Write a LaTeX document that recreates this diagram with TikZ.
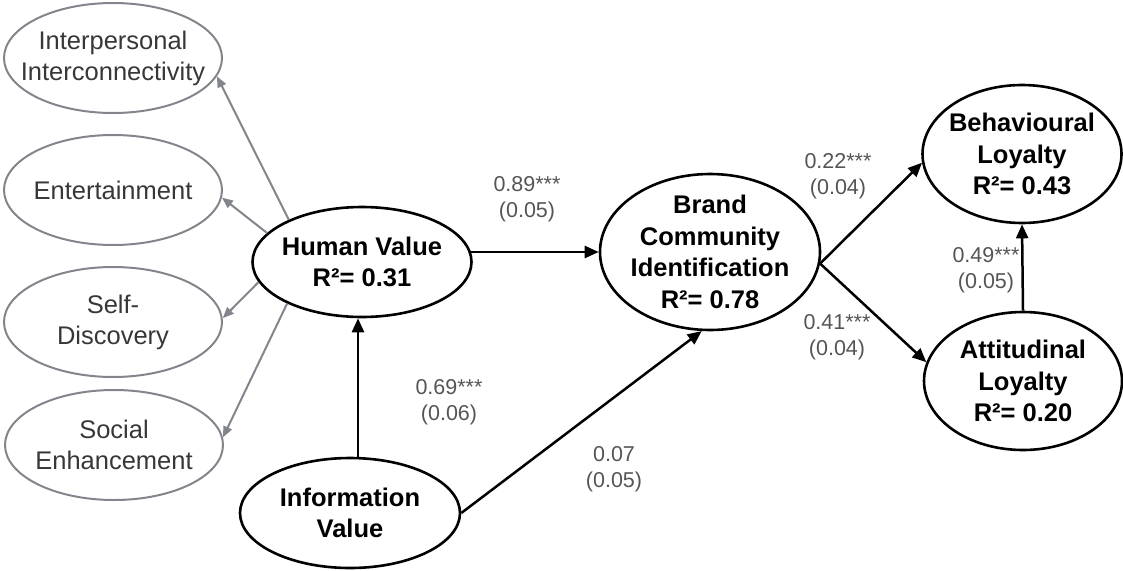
\documentclass[tikz,border=0pt]{standalone}
\usepackage{fontspec}
\setmainfont{Liberation Sans}
\usetikzlibrary{shapes.geometric,arrows.meta}
\definecolor{glines}{RGB}{130,134,140}
\definecolor{gtext}{RGB}{55,55,55}
\definecolor{lbl}{RGB}{85,85,85}
\tikzset{
  gell/.style={ellipse,draw=glines,line width=2pt,inner sep=0pt,minimum width=218pt,minimum height=110pt},
  gtxt/.style={align=center,text=gtext,font=\fontsize{25.5}{31}\selectfont,inner sep=0pt},
  bell/.style={ellipse,draw=black,line width=2.6pt,inner sep=0pt},
  btxt/.style={align=center,font=\fontsize{25.5}{31.5}\selectfont\bfseries,inner sep=0pt},
  lab/.style={align=center,text=lbl,font=\fontsize{21.5}{25.5}\selectfont,inner sep=0pt},
  garr/.style={draw=glines,line width=2pt,-{Triangle[length=11pt,width=9pt]}},
  barr/.style={draw=black,line width=2.5pt,-{Triangle[length=14pt,width=12pt]}},
}
\begin{document}
\begin{tikzpicture}[x=1pt,y=-1pt]
\useasboundingbox (0,0) rectangle (1123,570);
% gray ellipses
\node[gell] (ii) at (113,58) {};
\node[gtxt] (iit) at (ii) {Interpersonal\\Interconnectivity};
\node[gell] (en) at (113,190) {};
\node[gtxt] (ent) at (en) {Entertainment};
\node[gell] (sd) at (113,322) {};
\node[gtxt] (sdt) at (sd) {Self-\\Discovery};
\node[gell] (se) at (114,445) {};
\node[gtxt] (set) at (se) {Social\\Enhancement};
% black ellipses
\node[bell,minimum width=219pt,minimum height=110pt] (hv) at (362,262) {};
\node[btxt] (hvt) at (hv) {Human Value\\R²= 0.31};
\node[bell,minimum width=220pt,minimum height=110pt] (iv) at (350,513) {};
\node[btxt] (ivt) at (iv) {Information\\Value};
\node[bell,minimum width=220pt,minimum height=156pt] (bci) at (710,252) {};
\node[btxt] (bcit) at (bci) {Brand\\Community\\Identification\\R²= 0.78};
\node[bell,minimum width=199pt,minimum height=138pt] (bl) at (1022,154) {};
\node[btxt] (blt) at (bl) {Behavioural\\Loyalty\\R²= 0.43};
\node[bell,minimum width=198pt,minimum height=138pt] (al) at (1023,381) {};
\node[btxt] (alt) at (al) {Attitudinal\\Loyalty\\R²= 0.20};
% gray arrows
\draw[garr] (hv.150) -- (ii.350);
\draw[garr] (hv.163) -- (en.356);
\draw[garr] (hv.191) -- (sd.2);
\draw[garr] (hv.209) -- (se.4);
% black arrows
\coordinate (vx) at (358,0);
\draw[barr] (iv.north -| vx) -- (hv.south -| vx);
\draw[barr,shorten <=-3pt] (hv.east |- bci.west) -- (bci.west);
\draw[barr] (iv.east) -- (bci.264);
\draw[barr] (bci.354) -- (bl.185);
\draw[barr] (bci.354) -- (al.169);
\draw[barr] (al.north) -- (bl.south);
% labels
\node[lab] (l1) at (527,199) {0.89***\\(0.05)};
\node[lab] (l2) at (449,402) {0.69***\\(0.06)};
\node[lab] (l3) at (614,469) {0.07\\(0.05)};
\node[lab] (l4) at (838,176) {0.22***\\(0.04)};
\node[lab] (l5) at (837,337) {0.41***\\(0.04)};
\node[lab] (l6) at (986,270) {0.49***\\(0.05)};
\end{tikzpicture}
\end{document}
